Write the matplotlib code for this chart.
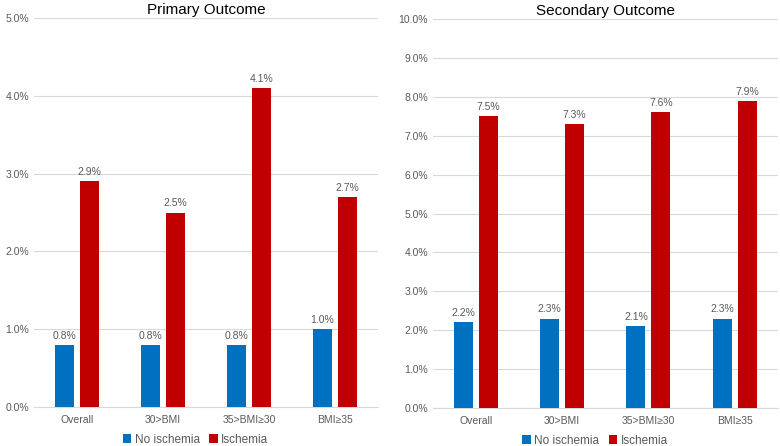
import numpy as np
import matplotlib
matplotlib.use("Agg")
from matplotlib import pyplot as plt
from matplotlib import ticker

plt.rcParams.update({
    "font.family": ["Liberation Sans", "DejaVu Sans"],
    "font.size": 7.5,
})

categories = ["Overall", "30>BMI", "35>BMI\u226530", "BMI\u226535"]
primary_no = [0.8, 0.8, 0.8, 1.0]
primary_isch = [2.9, 2.5, 4.1, 2.7]
secondary_no = [2.2, 2.3, 2.1, 2.3]
secondary_isch = [7.5, 7.3, 7.6, 7.9]

blue = "#0070C0"
red = "#C00000"
grey_text = "#595959"
grid_col = "#D9D9D9"

fig = plt.figure(figsize=(7.8, 4.46), dpi=100)
ax1 = fig.add_axes([0.0436, 0.0874, 0.441, 0.872])
ax2 = fig.add_axes([0.555, 0.0852, 0.442, 0.872])

panels = [
    (ax1, primary_no, primary_isch, "Primary Outcome", 5.0),
    (ax2, secondary_no, secondary_isch, "Secondary Outcome", 10.0),
]

x = np.arange(len(categories))
w = 0.22
off = 0.145

for ax, no, isch, title, ymax in panels:
    b1 = ax.bar(x - off, no, w, color=blue, label="No ischemia", zorder=3)
    b2 = ax.bar(x + off, isch, w, color=red, label="Ischemia", zorder=3)
    for bars in (b1, b2):
        for b in bars:
            ax.annotate(f"{b.get_height():.1f}%",
                        (b.get_x() + b.get_width() / 2, b.get_height()),
                        xytext=(0, 3), textcoords="offset points",
                        ha="center", va="bottom", color=grey_text, fontsize=7.5)
    ax.set_xlim(-0.5, len(categories) - 0.5)
    ax.set_ylim(0, ymax)
    ax.yaxis.set_major_locator(ticker.MultipleLocator(1.0))
    ax.yaxis.set_major_formatter(ticker.FuncFormatter(lambda v, p: f"{v:.1f}%"))
    ax.set_xticks(x)
    ax.set_xticklabels(categories)
    ax.tick_params(axis="both", length=0, colors=grey_text, labelsize=7.5)
    ax.tick_params(axis="x", pad=6)
    ax.grid(axis="y", color=grid_col, linewidth=0.8, zorder=0)
    for s in ["top", "right", "left"]:
        ax.spines[s].set_visible(False)
    ax.spines["bottom"].set_color(grid_col)
    ax.set_title(title, fontsize=11, color="black", pad=3)
    ax.legend(loc="center", bbox_to_anchor=(0.47, -0.084), ncol=2,
              frameon=False, fontsize=8.5, handlelength=0.7, handleheight=0.7,
              handletextpad=0.3, columnspacing=0.8, labelcolor=grey_text,
              borderpad=0, borderaxespad=0)

fig.savefig("out.png", dpi=100)
